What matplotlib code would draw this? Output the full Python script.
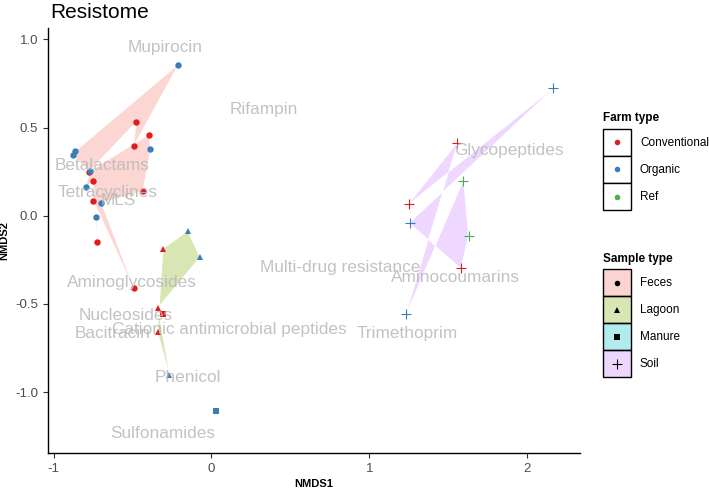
import matplotlib
matplotlib.use("Agg")
import matplotlib.pyplot as plt
from matplotlib.patches import Rectangle
from matplotlib.path import Path
from matplotlib.colors import to_rgb
import numpy as np

plt.rcParams['font.family'] = ['Liberation Sans', 'DejaVu Sans']

# ---------------- data (in data / polygon order) ----------------
feces_x = [-0.878, -0.861, -0.211, -0.492, -0.477, -0.777, -0.397, -0.386, -0.435,
           -0.698, -0.492, -0.747, -0.728, -0.723, -0.751, -0.797, -0.768]
feces_y = [0.346, 0.367, 0.857, 0.398, 0.534, 0.251, 0.459, 0.380, 0.140,
           0.074, -0.412, 0.085, -0.006, -0.146, 0.198, 0.166, 0.253]
feces_farm = ['Organic', 'Organic', 'Organic', 'Conventional', 'Conventional', 'Conventional',
              'Conventional', 'Organic', 'Conventional', 'Organic', 'Conventional', 'Conventional',
              'Organic', 'Conventional', 'Conventional', 'Organic', 'Organic']

lagoon_x = [-0.306, -0.150, -0.074, -0.340, -0.266, -0.340]
lagoon_y = [-0.187, -0.087, -0.234, -0.521, -0.901, -0.659]
lagoon_farm = ['Conventional', 'Organic', 'Organic', 'Conventional', 'Organic', 'Conventional']

manure_x = [-0.308, 0.030]
manure_y = [-0.555, -1.105]
manure_farm = ['Conventional', 'Organic']

soil_x = [2.167, 1.249, 1.559, 1.234, 1.597, 1.629, 1.580, 1.255]
soil_y = [0.723, 0.066, 0.414, -0.557, 0.200, -0.113, -0.297, -0.041]
soil_farm = ['Organic', 'Conventional', 'Conventional', 'Organic', 'Ref', 'Ref',
             'Conventional', 'Organic']

class_labels = ['Mupirocin', 'Rifampin', 'Betalactams', 'Tetracyclines', 'MLS',
                'Aminoglycosides', 'Nucleosides', 'Bacitracin',
                'Cationic antimicrobial peptides', 'Phenicol', 'Sulfonamides',
                'Multi-drug resistance', 'Glycopeptides', 'Aminocoumarins', 'Trimethoprim']
class_x = [-0.291, 0.335, -0.692, -0.660, -0.587, -0.502, -0.544, -0.628,
           0.116, -0.148, -0.306, 0.816, 1.882, 1.549, 1.238]
class_y = [0.957, 0.601, 0.285, 0.134, 0.087, -0.376, -0.565, -0.665,
           -0.644, -0.916, -1.235, -0.295, 0.370, -0.348, -0.669]

farm_types = ['Conventional', 'Organic', 'Ref']
farm_colors = {'Conventional': '#E41A1C', 'Organic': '#377EB8', 'Ref': '#4DAF4A'}
sample_types = ['Feces', 'Lagoon', 'Manure', 'Soil']
sample_fill = {'Feces': '#F8766D', 'Lagoon': '#7CAE00', 'Manure': '#00BFC4', 'Soil': '#C77CFF'}
sample_marker = {'Feces': 'o', 'Lagoon': '^', 'Manure': 's', 'Soil': '+'}

groups = {
    'Feces': (feces_x, feces_y, feces_farm),
    'Lagoon': (lagoon_x, lagoon_y, lagoon_farm),
    'Manure': (manure_x, manure_y, manure_farm),
    'Soil': (soil_x, soil_y, soil_farm),
}

# ---------------- figure ----------------
fig = plt.figure(figsize=(7.09, 4.90), dpi=100)
ax = fig.add_axes([48/709, 37/490, (580-48)/709, (453-28)/490])
xlim = (-1.035, 2.335)
ylim = (-1.345, 1.065)

# polygons filled with the even-odd rule (like ggplot's geom_polygon)
alpha = 0.3
nx, ny = 532 * 3, 425 * 3
gx = np.linspace(xlim[0], xlim[1], nx)
gy = np.linspace(ylim[0], ylim[1], ny)
GX, GY = np.meshgrid(gx, gy)
pts = np.column_stack([GX.ravel(), GY.ravel()])
img = np.ones((ny, nx, 4))
img[..., 3] = 0
for st in sample_types:
    xs, ys, _ = groups[st]
    if len(xs) < 3:
        continue
    verts = np.column_stack([xs + [xs[0]], ys + [ys[0]]])
    path = Path(verts, closed=True)
    mask = path.contains_points(pts).reshape(ny, nx)
    img[mask, :3] = to_rgb(sample_fill[st])
    img[mask, 3] = alpha
ax.imshow(img, extent=[xlim[0], xlim[1], ylim[0], ylim[1]], origin='lower',
          aspect='auto', interpolation='antialiased', zorder=1)

for st in sample_types:
    xs, ys, fs = groups[st]
    for x, y, f in zip(xs, ys, fs):
        if sample_marker[st] == '+':
            ax.plot(x, y, marker='+', color=farm_colors[f], markersize=7.5,
                    markeredgewidth=0.8, linestyle='none', zorder=3)
        else:
            ms = 5.0 if sample_marker[st] == '^' else 4.6
            ax.plot(x, y, marker=sample_marker[st], color=farm_colors[f], markersize=ms,
                    markeredgewidth=0, linestyle='none', zorder=3)

for lab, x, y in zip(class_labels, class_x, class_y):
    ax.text(x, y, lab, color='#B8B8B8', fontsize=12.4, ha='center', va='center',
            alpha=0.85, zorder=4)

ax.set_xlim(*xlim)
ax.set_ylim(*ylim)
ax.set_xticks([-1, 0, 1, 2])
ax.set_xticklabels(['-1', '0', '1', '2'])
ax.set_yticks([-1.0, -0.5, 0.0, 0.5, 1.0])
ax.set_yticklabels(['-1.0', '-0.5', '0.0', '0.5', '1.0'])
for s in ['top', 'right']:
    ax.spines[s].set_visible(False)
for s in ['left', 'bottom']:
    ax.spines[s].set_linewidth(1.0)
    ax.spines[s].set_color('black')
ax.tick_params(length=3.5, width=0.8, color='#333333', labelcolor='#4D4D4D', labelsize=9.5)
ax.set_xlabel('NMDS1', fontsize=8, fontweight='bold', labelpad=3)
ax.set_ylabel('NMDS2', fontsize=8, fontweight='bold', labelpad=4)
fig.text(50/709, 1 - 12/490, 'Resistome', fontsize=15, ha='left', va='center', color='black')

# ---------------- legends (figure pixel coordinates) ----------------
lax = fig.add_axes([0, 0, 1, 1], facecolor='none')
lax.set_xlim(0, 709)
lax.set_ylim(490, 0)
lax.axis('off')

kx, kw, kh = 603, 28, 27
lax.text(kx, 118, 'Farm type', fontsize=8.5, fontweight='bold', ha='left', va='center')
y0 = 129
for i, ft in enumerate(farm_types):
    yy = y0 + i * kh
    lax.add_patch(Rectangle((kx, yy), kw, kh, facecolor='white', edgecolor='black', lw=1.0))
    lax.plot(kx + kw / 2, yy + kh / 2, marker='o', color=farm_colors[ft], markersize=4,
             markeredgewidth=0)
    lax.text(kx + kw + 9, yy + kh / 2, ft, fontsize=8.5, ha='left', va='center')

lax.text(kx, 259, 'Sample type', fontsize=8.5, fontweight='bold', ha='left', va='center')
y0 = 269
for i, st in enumerate(sample_types):
    yy = y0 + i * kh
    lax.add_patch(Rectangle((kx, yy), kw, kh, facecolor=sample_fill[st], alpha=alpha,
                            edgecolor='none'))
    lax.add_patch(Rectangle((kx, yy), kw, kh, facecolor='none', edgecolor='black', lw=1.0))
    m = sample_marker[st]
    if m == '+':
        lax.plot(kx + kw / 2, yy + kh / 2, marker='+', color='black', markersize=7,
                 markeredgewidth=0.8)
    else:
        lax.plot(kx + kw / 2, yy + kh / 2, marker=m, color='black', markersize=4,
                 markeredgewidth=0)
    lax.text(kx + kw + 9, yy + kh / 2, st, fontsize=8.5, ha='left', va='center')

fig.savefig('out.png', dpi=100)
